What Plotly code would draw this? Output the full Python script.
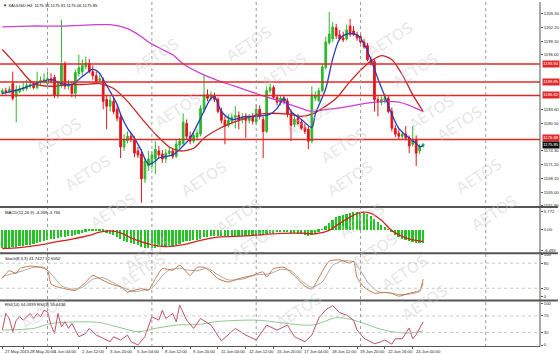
import plotly.graph_objects as go

# ---------------- DATA ----------------
bar_index = list(range(122))
opens = [1187.3,1187.9,1187.7,1189.5,1186.6,1187.7,1188.2,1188.4,1188.9,1189.1,
         1188.6,1189.7,1190.0,1189.5,1190.6,1190.9,1186.8,1189.1,1194.0,1188.9,
         1189.1,1187.3,1191.8,1192.2,1193.3,1194.0,1192.2,1191.3,1190.2,1190.4,
         1185.9,1184.4,1185.5,1183.7,1181.9,1175.2,1176.7,1177.6,1176.9,1174.3,
         1173.6,1168.0,1170.9,1171.1,1172.5,1174.3,1173.6,1172.5,1173.8,1174.3,
         1173.1,1175.6,1176.0,1180.5,1177.6,1176.5,1177.4,1178.1,1183.7,1187.0,
         1186.2,1186.8,1185.9,1183.2,1181.2,1180.1,1181.0,1181.9,1182.3,1181.4,
         1182.1,1181.2,1181.9,1180.8,1183.7,1181.4,1178.7,1187.9,1188.6,1186.4,
         1185.3,1186.2,1185.5,1182.8,1180.3,1181.7,1180.8,1179.6,1179.2,1176.5,
         1186.2,1185.7,1187.9,1193.1,1198.7,1199.6,1202.1,1200.5,1199.8,1199.6,
         1202.5,1201.4,1200.5,1200.1,1198.9,1198.1,1194.9,1194.5,1185.9,1185.3,
         1185.7,1186.2,1183.2,1179.4,1178.3,1177.6,1178.1,1177.2,1175.8,1176.9,
         1174.3,1175.36]
highs = [1188.4,1188.6,1188.9,1192.2,1189.1,1189.1,1190.0,1190.4,1190.4,1190.0,
         1192.2,1191.1,1191.8,1192.2,1191.8,1191.5,1190.2,1203.9,1194.5,1190.4,
         1190.0,1192.7,1196.0,1194.9,1195.6,1195.1,1193.6,1192.2,1191.5,1190.9,
         1186.8,1186.6,1186.2,1184.8,1182.6,1178.1,1178.7,1178.3,1177.6,1175.2,
         1174.7,1172.7,1174.3,1174.3,1176.5,1175.4,1174.5,1174.7,1175.2,1174.9,
         1176.9,1177.2,1182.8,1181.4,1178.7,1178.7,1179.2,1184.6,1191.5,1188.2,
         1187.7,1187.5,1186.4,1184.1,1182.1,1182.6,1182.8,1184.4,1183.2,1182.8,
         1182.8,1182.6,1182.8,1184.8,1184.6,1182.1,1188.9,1189.5,1189.1,1187.0,
         1186.8,1186.8,1186.2,1183.7,1182.1,1182.6,1181.4,1180.5,1179.9,1188.9,
         1187.7,1188.6,1194.0,1200.1,1205.7,1203.4,1203.0,1201.6,1201.2,1202.8,
         1204.1,1202.5,1201.2,1200.7,1199.6,1198.7,1195.6,1194.9,1186.6,1186.6,
         1187.3,1186.8,1184.1,1180.1,1179.2,1178.7,1179.9,1177.8,1179.9,1177.8,
         1175.8,1175.91]
lows = [1186.8,1187.0,1187.3,1185.7,1180.8,1187.3,1187.7,1187.9,1188.4,1188.2,
        1188.2,1189.1,1189.5,1189.1,1189.5,1186.2,1186.2,1188.6,1188.2,1188.2,
        1186.4,1186.2,1191.1,1191.3,1192.7,1191.8,1190.4,1189.5,1189.5,1183.7,
        1179.2,1183.2,1182.6,1181.0,1172.7,1174.3,1176.0,1176.3,1172.9,1172.7,
        1162.6,1167.1,1169.8,1170.2,1169.1,1172.5,1171.6,1171.6,1173.1,1172.5,
        1172.7,1174.9,1175.4,1176.9,1175.8,1176.0,1176.7,1177.6,1183.0,1185.5,
        1185.7,1185.3,1182.8,1180.5,1175.8,1179.6,1180.3,1179.4,1179.2,1180.5,
        1177.2,1180.5,1180.3,1180.1,1181.4,1172.7,1178.3,1187.3,1185.9,1184.6,
        1184.6,1184.8,1181.9,1176.5,1179.6,1180.1,1179.0,1178.1,1174.7,1176.0,
        1185.5,1185.3,1187.5,1192.7,1198.3,1198.9,1199.6,1199.2,1198.9,1199.2,
        1200.1,1200.3,1199.2,1198.5,1197.4,1194.5,1193.6,1183.2,1182.1,1184.6,
        1185.0,1182.8,1178.7,1177.4,1176.9,1176.9,1176.7,1173.8,1175.2,1170.9,
        1173.6,1175.06]
closes = [1187.9,1187.7,1188.2,1186.2,1188.2,1188.4,1188.6,1189.1,1189.3,1188.6,
          1190.0,1190.2,1190.4,1190.6,1190.2,1186.8,1189.5,1193.8,1188.9,1189.5,
          1187.3,1192.0,1193.1,1193.6,1194.2,1192.2,1191.3,1190.0,1190.6,1185.5,
          1184.4,1185.7,1183.2,1181.7,1175.2,1176.9,1177.6,1176.9,1173.8,1173.4,
          1168.0,1172.0,1172.5,1173.4,1174.7,1173.4,1172.5,1173.8,1174.3,1173.1,
          1175.8,1176.5,1180.8,1177.6,1176.5,1177.8,1178.3,1183.9,1187.0,1186.2,
          1187.0,1185.9,1183.2,1181.2,1179.9,1181.2,1181.9,1182.3,1181.2,1181.9,
          1181.2,1181.9,1181.0,1183.7,1182.1,1178.7,1187.9,1188.6,1186.4,1185.3,
          1186.2,1185.5,1182.6,1180.1,1181.4,1180.5,1179.4,1178.7,1176.5,1187.0,
          1186.8,1187.9,1193.3,1198.9,1200.7,1202.3,1200.3,1199.6,1199.4,1201.6,
          1200.7,1200.7,1199.8,1198.9,1197.8,1194.9,1194.2,1185.9,1185.3,1185.9,
          1186.4,1183.2,1179.4,1178.1,1177.6,1178.1,1177.2,1175.4,1176.7,1173.8,
          1175.4,1175.85]

# moving averages (read at sample bars)
ma_fast_idx = [0,5,9,14,17,20,23,26,28,29,31,33,34,36,38,40,42,44,45,49,51,54,57,60,61,63,66,70,73,77,
               79,81,83,86,89,90,93,95,97,99,102,104,106,108,110,112,114,117,119,120,121]
ma_fast_val = [1187.3,1188.2,1189.3,1190.4,1189.5,1189.3,1191.1,1192.7,1191.8,1190.4,
               1187.7,1184.8,1182.6,1179.4,1177.2,1174.3,1171.3,1172.0,1172.7,1173.4,
               1174.7,1177.2,1181.7,1186.2,1186.6,1183.2,1181.4,1182.1,1182.1,1182.6,
               1183.9,1186.2,1183.2,1181.4,1179.6,1182.6,1188.4,1195.1,1199.6,1200.7,
               1200.5,1198.5,1194.9,1190.6,1186.6,1182.6,1179.4,1177.2,1176.0,1175.2,1175.6]
ma_mid_idx = [0,4,9,14,19,23,28,32,36,40,44,48,51,55,58,62,65,69,74,77,82,86,89,92,96,100,105,107,109,112,115,118,121]
ma_mid_val = [1197.2,1193.8,1189.5,1188.9,1189.3,1189.3,1189.5,1188.4,1185.5,1181.7,
              1178.1,1175.2,1174.3,1174.9,1177.2,1179.2,1180.3,1181.4,1182.6,1182.8,
              1182.6,1182.1,1182.6,1183.9,1186.2,1190.0,1194.0,1195.1,1195.8,1194.9,
              1191.5,1187.0,1183.2]
ma_slow_idx = [0,8,17,27,31,36,40,42,46,49,52,57,62,67,72,77,82,86,89,92,96,100,104,110,114,117,121]
ma_slow_val = [1202.3,1202.5,1202.5,1202.8,1202.8,1201.9,1200.1,1198.9,1197.2,1196.0,
               1194.0,1191.8,1190.2,1188.9,1187.5,1186.2,1185.0,1183.9,1183.2,1183.5,
               1183.9,1184.4,1185.0,1185.5,1185.3,1184.6,1183.2]

level_prices = [1193.94, 1189.85, 1186.82, 1176.88]
last_price = 1175.85
price_ticks = [1161.90,1165.00,1168.10,1171.20,1174.30,1180.50,1183.60,1196.00,1199.10,1202.20,1205.30]

macd_vals = [-5.8,-5.8,-5.7,-5.6,-5.5,-5.3,-5.1,-4.9,-4.7,-4.5,
             -4.2,-3.9,-3.6,-3.3,-3.0,-2.9,-2.7,-2.4,-2.2,-2.1,
             -1.9,-1.6,-1.2,-0.9,-0.6,-0.4,-0.3,-0.3,-0.3,-0.6,
             -1.0,-1.3,-1.7,-2.2,-2.9,-3.4,-3.8,-4.1,-4.5,-4.9,
             -5.5,-5.7,-5.8,-5.8,-5.7,-5.6,-5.5,-5.4,-5.2,-5.0,
             -4.7,-4.4,-4.0,-3.7,-3.5,-3.3,-3.1,-2.8,-2.4,-2.2,
             -2.0,-1.9,-1.9,-2.0,-2.1,-2.1,-2.1,-2.0,-2.0,-1.9,
             -1.9,-1.8,-1.7,-1.6,-1.5,-1.6,-1.3,-1.0,-0.9,-0.8,
             -0.7,-0.7,-0.8,-1.0,-1.1,-1.2,-1.4,-1.6,-1.8,-1.5,
             -1.1,-0.6,0.2,1.2,2.3,3.3,4.0,4.5,4.9,5.2,
             5.5,5.7,5.7,5.6,5.4,5.0,4.5,3.5,2.5,1.7,
             0.9,0.1,-0.8,-1.6,-2.3,-2.8,-3.2,-3.6,-3.9,-4.1,-4.2,-4.269]
macd_sig_idx = [0,5,10,15,20,25,28,31,34,37,42,47,52,57,62,70,80,86,90,94,97,100,103,106,109,112,116,121]
macd_sig_val = [-6.0,-5.7,-5.0,-4.0,-3.0,-1.8,-0.8,-0.4,-1.0,-2.6,-4.5,-5.4,-4.8,-3.4,-2.4,-2.0,
                -1.2,-1.1,-1.3,-0.2,2.0,4.0,5.5,5.2,3.0,-0.3,-2.6,-3.794]

stoch_main_idx = [0,2,4,5,8,11,13,14,16,19,21,24,26,28,31,34,36,37,40,42,44,46,49,51,54,56,58,60,62,65,
                  68,72,75,76,78,81,84,87,89,91,94,97,100,101,102,104,107,110,112,114,117,120,121]
stoch_main_val = [44,62,55,67,73,70,63,30,23,17,15,35,51,43,31,23,11,13,19,15,43,67,63,75,51,70,70,59,43,35,
                  43,51,59,47,67,70,50,25,18,45,85,88,80,85,46,23,8,10,8,1,8,15,41.7427]
stoch_sig_idx = [0,3,6,9,12,15,17,20,23,26,29,32,35,38,41,43,46,48,51,53,56,59,62,65,69,73,77,80,83,86,
                 89,92,95,98,101,103,105,108,111,114,117,120,121]
stoch_sig_val = [48,55,62,70,70,45,26,18,22,42,45,33,20,12,16,20,50,64,68,64,62,68,52,40,42,52,55,65,62,38,
                 22,35,75,86,83,62,35,12,9,5,6,12,32.6052]

rsi_fast_idx = [0,1,2,3,4,5,6,8,9,10,11,12,13,14,15,16,17,18,19,20,21,22,24,25,27,29,31,32,34,36,
                37,39,41,43,45,46,47,49,50,51,53,55,57,60,63,67,70,73,76,79,82,84,87,89,91,93,95,97,99,101,
                102,104,107,109,110,112,113,115,116,117,118,119,121]
rsi_fast_val = [36,76,64,32,60,68,60,76,64,76,68,84,80,48,28,76,44,56,40,52,36,20,28,40,24,16,8,20,12,24,
                8,0,20,68,60,84,64,76,56,96,60,40,64,48,10,40,24,12,48,36,48,20,8,24,65,85,95,78,72,60,
                36,16,3,8,12,2,15,15,29,41,15,25,55.6436]
rsi_slow_idx = [0,9,14,24,28,33,39,44,50,57,61,73,89,96,100,104,108,112,117,121]
rsi_slow_val = [36,40,52,56,54,44,32,40,48,50,56,60,48,66,62,52,40,32,29,34.0939]

week_start_idx = [13, 43, 73, 103, 139]
time_label_idx = [0, 6, 14, 22, 30, 38, 46, 54, 62, 70, 78, 86, 94, 102, 110, 118]
time_label_text = ["27 May 2015", "28 May 20:00", "1 Jun 04:00", "2 Jun 12:00", "3 Jun 20:00",
                   "5 Jun 04:00", "8 Jun 12:00", "9 Jun 20:00", "11 Jun 04:00", "12 Jun 12:00",
                   "15 Jun 20:00", "17 Jun 04:00", "18 Jun 12:00", "19 Jun 20:00", "22 Jun 16:00",
                   "24 Jun 00:00"]

# ---------------- LAYOUT ----------------
W, H = 560, 354
MR, MB = 18, 7
PW, PH = W - MR, H - MB


def yp(p):
    return 1 - p / PH


FONT = "Liberation Sans"
FS = 4.2
fig = go.Figure()

fig.add_trace(go.Candlestick(
    x=bar_index, open=opens, high=highs, low=lows, close=closes,
    increasing=dict(line=dict(color="#2DB82D", width=1), fillcolor="#2DB82D"),
    decreasing=dict(line=dict(color="#E3161B", width=1), fillcolor="#E3161B"),
    whiskerwidth=0, xaxis="x", yaxis="y", showlegend=False, hoverinfo="skip"))

for ix, vals, col in [(ma_slow_idx, ma_slow_val, "#CC3FCC"),
                      (ma_mid_idx, ma_mid_val, "#C62828"),
                      (ma_fast_idx, ma_fast_val, "#2A3BBF")]:
    fig.add_trace(go.Scatter(x=ix, y=vals, mode="lines", line=dict(color=col, width=1.3, shape="spline", smoothing=0.8),
                             xaxis="x", yaxis="y", showlegend=False, hoverinfo="skip"))

fig.add_trace(go.Bar(x=bar_index, y=macd_vals, marker=dict(color="#22C322", line=dict(width=0)), width=0.5,
                     xaxis="x", yaxis="y2", showlegend=False, hoverinfo="skip"))
fig.add_trace(go.Scatter(x=macd_sig_idx, y=macd_sig_val, mode="lines",
                         line=dict(color="#D42020", width=1.3, shape="spline", smoothing=1),
                         xaxis="x", yaxis="y2", showlegend=False, hoverinfo="skip"))

fig.add_trace(go.Scatter(x=stoch_sig_idx, y=stoch_sig_val, mode="lines",
                         line=dict(color="#A8A8A0", width=1, shape="spline", smoothing=0.6),
                         xaxis="x", yaxis="y3", showlegend=False, hoverinfo="skip"))
fig.add_trace(go.Scatter(x=stoch_main_idx, y=stoch_main_val, mode="lines",
                         line=dict(color="#C8784A", width=1, shape="spline", smoothing=0.6),
                         xaxis="x", yaxis="y3", showlegend=False, hoverinfo="skip"))

fig.add_trace(go.Scatter(x=rsi_slow_idx, y=rsi_slow_val, mode="lines",
                         line=dict(color="#90C890", width=1, shape="spline", smoothing=0.8),
                         xaxis="x", yaxis="y4", showlegend=False, hoverinfo="skip"))
fig.add_trace(go.Scatter(x=rsi_fast_idx, y=rsi_fast_val, mode="lines",
                         line=dict(color="#C0506A", width=1),
                         xaxis="x", yaxis="y4", showlegend=False, hoverinfo="skip"))

tickfont = dict(family=FONT, size=FS, color="#222")
common_y = dict(side="right", showgrid=False, zeroline=False, ticks="outside", ticklen=2,
                tickcolor="#555", tickfont=tickfont, anchor="x", fixedrange=True)

shapes = []
for lp in level_prices:
    shapes.append(dict(type="line", xref="x domain", x0=0, x1=1, yref="y", y0=lp, y1=lp,
                       line=dict(color="#E02828", width=1.5)))
for lv in [80, 20]:
    shapes.append(dict(type="line", xref="x domain", x0=0, x1=1, yref="y3", y0=lv, y1=lv,
                       line=dict(color="#C8C8C8", width=1, dash="dot")))
for lv in [70, 30]:
    shapes.append(dict(type="line", xref="x domain", x0=0, x1=1, yref="y4", y0=lv, y1=lv,
                       line=dict(color="#C8C8C8", width=1, dash="dot")))
for g in week_start_idx:
    shapes.append(dict(type="line", xref="x", x0=g, x1=g, yref="paper", y0=0, y1=1,
                       line=dict(color="#9A9A9A", width=1, dash="dot")))
for p in [206.3, 252.8, 300.3]:
    shapes.append(dict(type="line", xref="paper", x0=0, x1=W / PW, yref="paper", y0=yp(p), y1=yp(p),
                       line=dict(color="#555555", width=2)))
shapes.append(dict(type="line", xref="paper", x0=0, x1=1, yref="paper", y0=yp(346.5), y1=yp(346.5),
                   line=dict(color="#555555", width=1)))
shapes.append(dict(type="line", xref="paper", x0=1, x1=1, yref="paper", y0=yp(346.5), y1=1,
                   line=dict(color="#555555", width=1)))

annotations = []
wm_pos = [(30, 135), (60, 172), (128, 30), (150, 85), (205, 178), (250, 18), (285, 45), (310, 95),
          (345, 145), (420, 14), (445, 45), (462, 88), (490, 123), (510, 175), (380, 178),
          (85, 210), (392, 220), (525, 212), (120, 278), (255, 266), (115, 295), (15, 337),
          (405, 275), (435, 297), (455, 327), (300, 335), (240, 215)]
for (px_, py_) in wm_pos:
    annotations.append(dict(text="AETOS", xref="paper", yref="paper", x=px_ / PW, y=yp(py_),
                            showarrow=False, textangle=-33,
                            font=dict(family="DejaVu Sans", size=15, color="rgba(200,200,200,0.45)")))

small = dict(family=FONT, size=FS, color="#111")
annotations.append(dict(text="\u25BC XAUUSD,H4  1175.36 1175.91 1175.06 1175.85", xref="paper", yref="paper",
                        x=1 / PW, y=yp(4), xanchor="left", yanchor="middle", showarrow=False, font=small))
annotations.append(dict(text="MACD(12,26,9) -4.269 -3.794", xref="paper", yref="paper",
                        x=3 / PW, y=yp(212), xanchor="left", yanchor="middle", showarrow=False, font=small))
annotations.append(dict(text="Stoch(8,3,3) 41.7427 32.6052", xref="paper", yref="paper",
                        x=3 / PW, y=yp(257.5), xanchor="left", yanchor="middle", showarrow=False, font=small))
annotations.append(dict(text="RSI(14) 34.0939 RSI(3) 55.6436", xref="paper", yref="paper",
                        x=3 / PW, y=yp(304), xanchor="left", yanchor="middle", showarrow=False, font=small))

for k, lp in enumerate(level_prices):
    annotations.append(dict(text=f"{lp:.2f}", xref="paper", yref="y", x=1.003, y=lp, xanchor="left",
                            yanchor="middle", showarrow=False, bgcolor="#E02828", borderpad=0.3,
                            yshift=2 if k == 3 else 0,
                            font=dict(family=FONT, size=FS, color="white")))
annotations.append(dict(text=f"{last_price:.2f}", xref="paper", yref="y", x=1.003, y=last_price,
                        xanchor="left", yanchor="middle", showarrow=False, bgcolor="#111111", borderpad=0.3,
                        yshift=-1, font=dict(family=FONT, size=FS, color="white")))

for k, (ix, txt) in enumerate(zip(time_label_idx, time_label_text)):
    annotations.append(dict(text=txt, xref="x", yref="paper", x=ix, y=yp(347.5), xanchor="left",
                            yanchor="top", showarrow=False, xshift=5 if k == 1 else 1,
                            font=dict(family=FONT, size=FS, color="#222")))

fig.update_layout(
    width=W, height=H, margin=dict(l=0, r=MR, t=0, b=MB),
    paper_bgcolor="white", plot_bgcolor="white", showlegend=False, bargap=0,
    xaxis=dict(domain=[0, 1], range=[-0.67, 154.6], anchor="y4", showgrid=False, zeroline=False,
               showticklabels=False, ticks="outside", ticklen=2, tickcolor="#555",
               tickvals=time_label_idx, rangeslider=dict(visible=False), fixedrange=True),
    yaxis=dict(domain=[yp(206), 1], range=[1161.68, 1207.93], tickvals=price_ticks, tickformat=".2f",
               **common_y),
    yaxis2=dict(domain=[yp(252), yp(207)], range=[-7.30, 6.98], tickvals=[5.772, 0, -6.493],
                ticktext=["5.772", "0.00", "-6.493"], **common_y),
    yaxis3=dict(domain=[yp(299), yp(254)], range=[-6.4, 100.7], tickvals=[100, 80, 20, 0], **common_y),
    yaxis4=dict(domain=[yp(346), yp(302)], range=[-2.4, 103.1], tickvals=[100, 70, 30, 0], **common_y),
    shapes=shapes, annotations=annotations,
)

fig.write_html("out.html")
